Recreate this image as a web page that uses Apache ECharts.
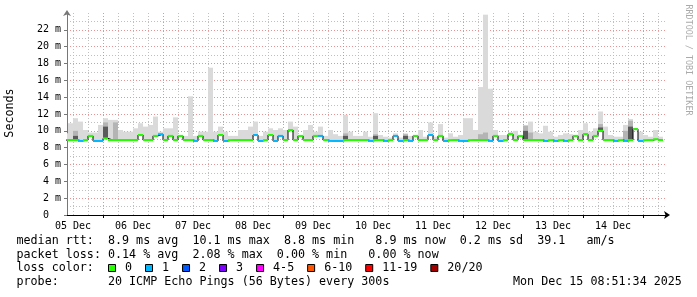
<!DOCTYPE html>
<html><head><meta charset="utf-8">
<script src="https://cdn.jsdelivr.net/npm/echarts@6/dist/echarts.min.js"></script>
<style>html,body{margin:0;padding:0;background:#fff}#c{width:697px;height:297px}</style>
</head><body><div id="c"></div>
<script>
// ---- data (hours since 05 Dec 00:00, 2-hour bins) ----
const binStartHour = 8;
const binHours = 2;
const smokeMax = [
  9.7, 10.9, 11.5, 11.1, 10.1, 9.8, 9.8, 10.7, 11.5, 11.3, 11.3,
  10.1, 9.9, 9.9, 10.3, 10.9, 10.5, 10.7, 11.7, 9.9, 10.3,
  10.3, 11.6, 9.4, 9.4, 14.1, 9.4, 9.9, 9.9, 17.5, 9.9,
  10.5, 9.9, 9.4, 9.4, 10.1, 10.1, 10.5, 11.1, 9.4, 9.9,
  10.3, 10.1, 10.3, 10.1, 11.1, 10.5, 9.4, 10.1, 10.7, 9.9,
  10.5, 9.4, 10.1, 9.6, 9.4, 11.9, 9.9, 9.4, 9.4, 9.9,
  9.3, 12.1, 9.5, 9.3, 9.2, 9.7, 9.2, 9.7, 9.4, 9.5,
  10.1, 9.3, 11.0, 9.3, 10.8, 9.2, 9.7, 9.3, 9.5, 11.5,
  11.5, 10.1, 15.2, 23.8, 15.0, 10.1, 9.5, 9.5, 9.7, 10.0,
  9.4, 10.7, 11.1, 9.9, 9.7, 10.6, 9.9, 9.3, 9.5, 9.7,
  9.6, 9.4, 10.1, 10.9, 9.9, 10.3, 12.3, 10.5, 9.5, 9.3,
  9.3, 10.7, 11.4, 10.3, 9.9, 9.5, 9.3, 10.1, 9.3
];
const smokeMid = [
  null, null, 10.0, null, null, null, null, null, 11.0, null, 11.0,
  null, null, null, null, null, null, null, null, null, null,
  null, null, null, null, null, null, null, null, null, null,
  9.6, null, null, null, null, null, null, null, null, null,
  null, null, null, null, 10.0, null, null, null, null, null,
  null, null, null, null, null, 9.7, null, null, null, null,
  null, 9.6, null, null, null, null, null, 9.6, null, null,
  null, null, null, null, null, null, null, null, null, null,
  null, null, 9.6, 9.8, null, null, null, null, 9.8, null,
  null, 10.6, 9.8, null, null, null, null, null, null, null,
  null, null, null, null, null, null, 10.8, null, null, null,
  null, 10.0, 11.2, null, null, null, null, null, null
];
const smokeDark = [
  null, null, 9.4, null, null, null, null, null, 10.5, null, null,
  null, null, null, null, null, null, null, null, null, null,
  null, null, null, null, null, null, null, null, null, null,
  null, null, null, null, null, null, null, null, null, null,
  null, null, null, null, null, null, null, null, null, null,
  null, null, null, null, null, 9.4, null, null, null, null,
  null, 9.4, null, null, null, null, null, 9.4, null, null,
  null, null, null, null, null, null, null, null, null, null,
  null, null, null, null, null, null, null, null, 9.6, null,
  null, 10.0, null, null, null, null, null, null, null, null,
  null, null, null, null, null, null, 10.4, null, null, null,
  null, null, 10.5, null, null, null, null, null, null
];
const median = [
  8.9, 8.9, 8.9, 8.8, 8.9, 9.4, 8.8, 8.8, 9.1, 8.9, 8.9,
  8.9, 8.9, 8.9, 8.9, 9.5, 8.9, 8.9, 9.4, 9.6, 8.9,
  9.4, 8.9, 9.4, 8.9, 8.9, 8.8, 9.4, 8.9, 8.9, 8.8,
  9.5, 8.8, 8.9, 8.9, 8.9, 8.9, 8.9, 9.5, 8.8, 8.9,
  9.5, 8.8, 9.4, 8.9, 10.1, 8.9, 9.4, 8.9, 8.9, 9.4,
  9.4, 8.9, 8.8, 8.8, 8.8, 8.9, 8.9, 8.9, 8.9, 8.9,
  8.8, 8.9, 8.9, 8.8, 8.9, 9.4, 8.8, 8.9, 8.8, 9.4,
  8.9, 8.9, 9.5, 8.9, 9.4, 8.8, 8.9, 8.9, 8.8, 8.8,
  8.9, 8.9, 8.9, 8.9, 8.8, 9.4, 8.8, 8.9, 9.6, 8.9,
  9.4, 8.9, 8.9, 8.9, 8.9, 8.8, 8.9, 8.8, 8.9, 8.8,
  8.9, 9.4, 8.9, 9.6, 8.9, 9.4, 10.0, 8.9, 8.9, 8.8,
  8.9, 8.8, 8.9, 10.2, 8.8, 8.9, 8.9, 9.0, 8.9
];
const lossCount = [
  0, 0, 0, 1, 0, 0, 1, 1, 0, 0, 0,
  0, 0, 0, 0, 0, 0, 0, 0, 1, 0,
  0, 0, 0, 0, 0, 1, 0, 0, 0, 1,
  0, 1, 0, 0, 0, 0, 0, 1, 1, 0,
  0, 1, 1, 0, 0, 0, 0, 0, 0, 0,
  1, 0, 1, 1, 1, 0, 0, 0, 0, 0,
  1, 0, 0, 1, 0, 1, 1, 0, 1, 0,
  0, 0, 1, 0, 0, 1, 0, 0, 1, 1,
  0, 0, 0, 0, 1, 0, 1, 0, 0, 0,
  0, 0, 0, 0, 0, 1, 0, 1, 0, 1,
  0, 0, 0, 0, 0, 0, 0, 0, 0, 1,
  0, 1, 0, 0, 1, 0, 0, 0, 0
];
const dayLabels = ['05 Dec','06 Dec','07 Dec','08 Dec','09 Dec','10 Dec','11 Dec','12 Dec','13 Dec','14 Dec'];
const yTickLabels = ['0  ','2 m','4 m','6 m','8 m','10 m','12 m','14 m','16 m','18 m','20 m','22 m','24 m'];
const lossLegend = [['0','#26ff00'],['1','#00b8ff'],['2','#0059ff'],['3','#7e00ff'],['4-5','#ff00ff'],['6-10','#ff5500'],['11-19','#ff0000'],['20/20','#a00000']];
const statLines = [
  'median rtt:  8.9 ms avg  10.1 ms max  8.8 ms min   8.9 ms now  0.2 ms sd  39.1   am/s',
  'packet loss: 0.14 % avg  2.08 % max  0.00 % min   0.00 % now',
  'loss color:',
  'probe:       20 ICMP Echo Pings (56 Bytes) every 300s'
];
const stampText = 'Mon Dec 15 08:51:34 2025';
const yTitle = 'Seconds';
const sideText = 'RRDTOOL / TOBI OETIKER';
const xMin = 9.6, xMax = 249.6;

// ---- build ----
const mono = 'DejaVu Sans Mono';
const hours = median.map((_, i) => binStartHour + i * binHours);
function band(top) {
  const out = [];
  top.forEach((v, i) => { if (v != null) out.push([hours[i], median[i], v]); });
  return out;
}
function rectRender(color) {
  return function (params, api) {
    const t = api.value(0), lo = api.value(1), hi = api.value(2);
    const p0 = api.coord([t, hi]);
    const p1 = api.coord([t + binHours, lo]);
    const cs = params.coordSys;
    const shape = echarts.graphic.clipRectByRect(
      {x: p0[0], y: p0[1], width: p1[0] - p0[0], height: p1[1] - p0[1]},
      {x: cs.x, y: cs.y, width: cs.width, height: cs.height});
    if (!shape) return null;
    return {type: 'rect', shape: shape, style: {fill: color}};
  };
}
const segData = median.map((m, i) => [hours[i], m, lossCount[i]]);
function segRender(params, api) {
  const t = api.value(0), m = api.value(1), l = api.value(2);
  const a = api.coord([Math.max(t, xMin), m]);
  const b = api.coord([Math.min(t + binHours, xMax), m]);
  return {type: 'line', shape: {x1: a[0], y1: a[1], x2: b[0], y2: b[1]},
          style: {stroke: lossLegend[Math.min(l, 1)][1], lineWidth: 2}};
}
const stepData = median.map((m, i) => [hours[i], m]);
stepData.push([hours[hours.length - 1] + binHours, median[median.length - 1]]);

const majorCol = 'rgba(222,120,120,0.8)';
const minorCol = 'rgba(185,185,185,0.9)';
const vGrid = [];
for (let h = 12; h < xMax; h += 6) {
  vGrid.push({xAxis: h, lineStyle: {color: h % 24 === 0 ? majorCol : minorCol}});
}
const labelHours = dayLabels.map((_, i) => 12 + 24 * i);
const midnightHours = dayLabels.map((_, i) => 24 * (i + 1));

const graphics = [];
graphics.push({type: 'text', x: 10, y: 113, rotation: Math.PI / 2,
  style: {text: yTitle, font: '11.7px ' + mono, fill: '#000', align: 'center', verticalAlign: 'middle'}});
graphics.push({type: 'text', x: 688, y: 60, rotation: -Math.PI / 2,
  style: {text: sideText, font: '8.4px ' + mono, fill: '#aaa', align: 'center', verticalAlign: 'middle'}});
const rowY = [240.8, 254.8, 268.2, 282.2];
statLines.forEach((s, i) => {
  graphics.push({type: 'text', x: 16.5, y: rowY[i],
    style: {text: s, font: '11.7px ' + mono, fill: '#000', align: 'left', verticalAlign: 'middle'}});
});
graphics.push({type: 'text', x: 513, y: rowY[3],
  style: {text: stampText, font: '11.7px ' + mono, fill: '#000', align: 'left', verticalAlign: 'middle'}});
let lx = 108.5;
const cw = 7.02;
lossLegend.forEach(([lab, col]) => {
  graphics.push({type: 'rect', shape: {x: lx, y: 264.5, width: 7, height: 7},
    style: {fill: col, stroke: '#000', lineWidth: 1}});
  graphics.push({type: 'text', x: lx + 16.5, y: rowY[2],
    style: {text: lab, font: '11.7px ' + mono, fill: '#000', align: 'left', verticalAlign: 'middle'}});
  lx = lx + 16.5 + lab.length * cw + 13.5;
});

const chart = echarts.init(document.getElementById('c'), null, {renderer: 'canvas'});
chart.setOption({
  animation: false,
  backgroundColor: '#fff',
  grid: {left: 67, top: 13, width: 600, height: 202, containLabel: false},
  xAxis: {
    type: 'value', min: xMin, max: xMax,
    axisLine: {show: true, lineStyle: {color: '#000', width: 1}, symbol: ['none', 'arrow'], symbolSize: [6, 6], symbolOffset: [0, 3]},
    axisTick: {show: true, customValues: midnightHours, length: 3, lineStyle: {color: '#000'}},
    axisLabel: {customValues: labelHours, formatter: v => dayLabels[Math.round((v - 12) / 24)],
      fontFamily: mono, fontSize: 10, color: '#000', margin: 6},
    splitLine: {show: false}
  },
  yAxis: {
    type: 'value', min: 0, max: 24, interval: 2,
    axisLine: {show: true, lineStyle: {color: '#777', width: 1}, symbol: ['none', 'arrow'], symbolSize: [6, 6], symbolOffset: [0, 3]},
    axisTick: {show: true, length: 3, lineStyle: {color: '#777'}},
    axisLabel: {formatter: v => yTickLabels[Math.round(v / 2)], fontFamily: mono, fontSize: 10, color: '#000', margin: 6,
      showMaxLabel: false},
    splitLine: {show: true, showMaxLine: false, showMinLine: false, lineStyle: {color: majorCol, type: [1, 2], width: 1}},
    minorTick: {show: false, splitNumber: 2},
    minorSplitLine: {show: true, lineStyle: {color: minorCol, type: [1, 2], width: 1}}
  },
  series: [
    {type: 'line', data: [[xMin, 0]], symbol: 'none', lineStyle: {opacity: 0}, silent: true, z: 1,
     markLine: {silent: true, z: 1, symbol: ['none', 'none'], label: {show: false}, animation: false,
       lineStyle: {type: [1, 2], width: 1}, data: vGrid}},
    {type: 'custom', data: band(smokeMax), renderItem: rectRender('#dadada'), z: 2, silent: true},
    {type: 'custom', data: band(smokeMid), renderItem: rectRender('#b4b4b4'), z: 2, silent: true},
    {type: 'custom', data: band(smokeDark), renderItem: rectRender('#5a5a5a'), z: 2, silent: true},
    {type: 'line', data: stepData, step: 'end', symbol: 'none', lineStyle: {color: '#000', width: 1}, z: 3, silent: true},
    {type: 'custom', data: segData, renderItem: segRender, z: 4, silent: true}
  ],
  graphic: graphics
});
</script></body></html>
